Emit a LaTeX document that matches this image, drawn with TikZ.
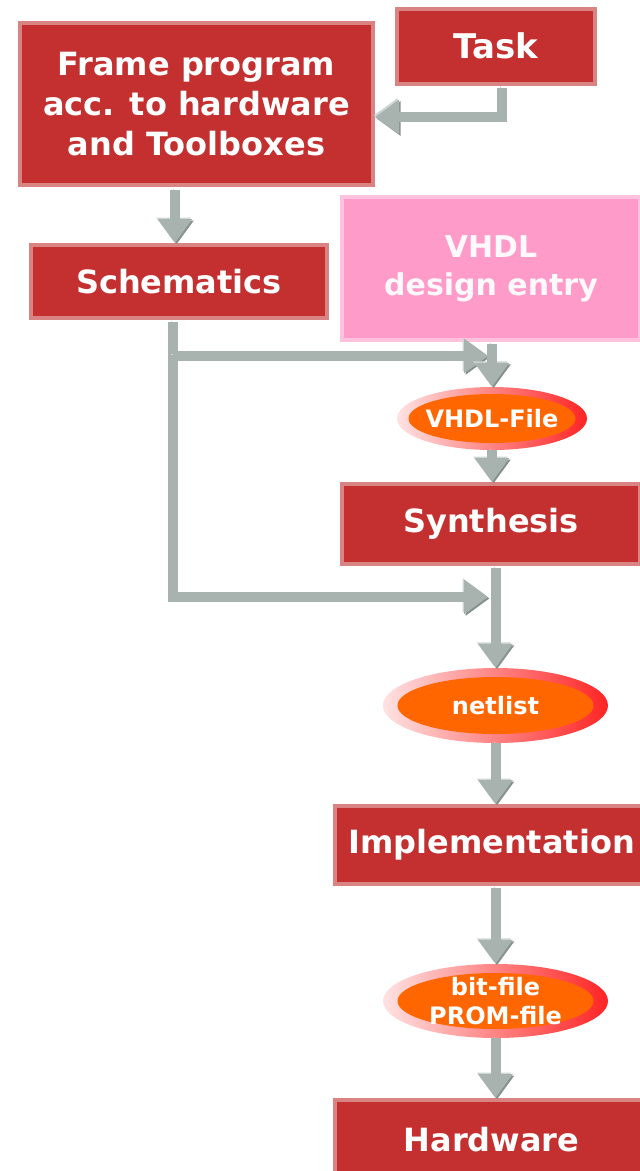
\documentclass[tikz,border=0pt]{standalone}
\usepackage{fontspec}
\setmainfont{DejaVu Sans}
\usetikzlibrary{arrows.meta,shapes.geometric}
\definecolor{boxred}{HTML}{C3302F}
\definecolor{boxedge}{HTML}{D98482}
\definecolor{pinkbox}{HTML}{FF9BC9}
\definecolor{pinkedge}{HTML}{FFC2DE}
\definecolor{orangein}{HTML}{FF6600}
\definecolor{ringL}{HTML}{FFE2E2}
\definecolor{ringR}{HTML}{FF2424}
\definecolor{arrgray}{HTML}{A8B2AE}
\definecolor{arrlight}{HTML}{CDD6D3}
\definecolor{arrdark}{HTML}{87928E}
\begin{document}
\begin{tikzpicture}[x=1pt,y=-1pt,
  redbox/.style={draw=boxedge, line width=4pt, fill=boxred, text=white,
    font=\bfseries\fontsize{32}{40}\selectfont, align=center, inner sep=0pt},
  pinkbox/.style={draw=pinkedge, line width=4pt, fill=pinkbox, text=white!94!pinkbox,
    font=\bfseries\fontsize{30}{38}\selectfont, align=center, inner sep=0pt},
  fileouter/.style={ellipse, inner sep=0pt, left color=ringL, right color=ringR},
  filetext/.style={text=white, font=\bfseries\fontsize{24}{29}\selectfont, align=center, inner sep=0pt},
  arr/.style={draw=arrgray, line width=10pt, line join=miter,
    -{Triangle[width=33pt,length=24pt]},
    preaction={draw=arrlight, transform canvas={shift={(-1.5pt,1.5pt)}}},
    preaction={draw=arrdark, transform canvas={shift={(1.5pt,-1.5pt)}}}},
]
\useasboundingbox (0,0) rectangle (640,1171);
\clip (0,0) rectangle (640,1171);

% boxes
\node[redbox, minimum width=198pt, minimum height=75pt, font=\bfseries\fontsize{34}{40}\selectfont] (task) at (496,46) {Task};
\node[redbox, minimum width=353pt, minimum height=162pt] (frame) at (196.5,104)
  {Frame program\\acc. to hardware\\and Toolboxes};
\node[redbox, minimum width=296pt, minimum height=73pt] (schem) at (179,281.5) {Schematics};
\node[pinkbox, minimum width=298pt, minimum height=143pt] (vhdl) at (491,268.5) {VHDL\\design entry};
\node[redbox, minimum width=298pt, minimum height=80pt] (synth) at (491,524) {Synthesis};
\node[redbox, minimum width=313pt, minimum height=78pt] (impl) at (491.5,845) {Implementation};
\node[redbox, minimum width=313pt, minimum height=80pt] (hw) at (491.5,1140) {Hardware};

% file ellipses
\node[fileouter, minimum width=190pt, minimum height=63pt] (vf) at (492,418.5) {};
\fill[orangein] (vf.center) ellipse [x radius=83.5, y radius=24.5];
\node[filetext] (vft) at (vf.center) {VHDL-File};

\node[fileouter, minimum width=225pt, minimum height=75pt] (net) at (495.5,705.5) {};
\fill[orangein] (net.center) ellipse [x radius=98, y radius=28.5];
\node[filetext] (nett) at (net.center) {netlist};

\node[fileouter, minimum width=225pt, minimum height=74pt] (bit) at (495.5,1001) {};
\fill[orangein] (bit.center) ellipse [x radius=98, y radius=28];
\node[filetext] (bitt) at (bit.center) {bit-file\\PROM-file};

% connectors
\draw[arr, shorten <=2pt] ([xshift=6pt]task.south) |- ([yshift=-13pt]frame.east);
\coordinate (a1) at ([xshift=-4pt]schem.north);
\draw[arr, shorten <=3pt] (frame.south -| a1) -- (a1);

\coordinate (m1) at (488,356);
\coordinate (m2) at (488,597);
\coordinate (s1) at ([xshift=-6.5pt]schem.south);
\draw[arr, shorten <=2pt] (s1) |- (m2);
\draw[arr] (s1 |- m1) -- (m1);

\draw[arr, shorten <=2pt] (vhdl.south -| vf.north) -- (vf.north);
\draw[arr] (vf.south) -- (vf.south |- synth.north);
\draw[arr, shorten <=2pt] (synth.south -| net.north) -- (net.north);
\draw[arr] (net.south) -- (net.south |- impl.north);
\draw[arr, shorten <=2pt] (impl.south -| bit.north) -- (bit.north);
\draw[arr] (bit.south) -- (bit.south |- hw.north);
\end{tikzpicture}
\end{document}
